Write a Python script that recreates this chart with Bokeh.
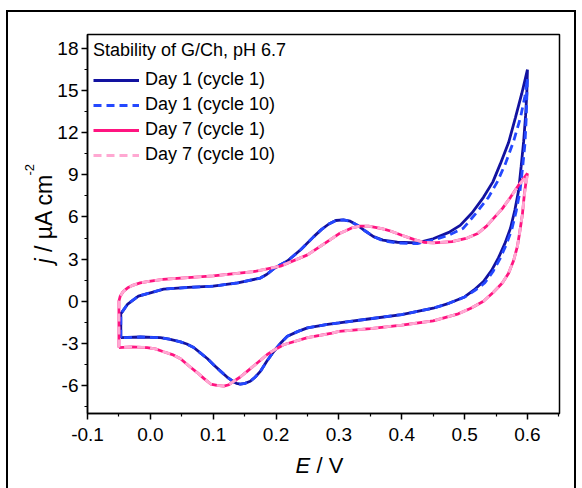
import math
from bokeh.plotting import figure
from bokeh.models import (Range1d, FixedTicker, PrintfTickFormatter, Legend,
                          LegendItem, Label, InlineStyleSheet)
from bokeh.embed import file_html
from bokeh.resources import INLINE

# ---------------- data ----------------
x_ticks = [-0.1, 0.0, 0.1, 0.2, 0.3, 0.4, 0.5, 0.6]
x_minor = [-0.05, 0.05, 0.15, 0.25, 0.35, 0.45, 0.55, 0.65]
y_ticks = [-6, -3, 0, 3, 6, 9, 12, 15, 18]
y_minor = [-7.5, -4.5, -1.5, 1.5, 4.5, 7.5, 10.5, 13.5, 16.5]

series_names = ["Day 1 (cycle 1)", "Day 1 (cycle 10)", "Day 7 (cycle 1)", "Day 7 (cycle 10)"]

d1c1_E = [-0.047, -0.047, -0.036, -0.019, 0.000, 0.021, 0.060, 0.100, 0.139, 0.175,
          0.185, 0.196, 0.207, 0.218, 0.240, 0.260, 0.272, 0.284, 0.295, 0.307,
          0.318, 0.330, 0.342, 0.355, 0.370, 0.393, 0.425, 0.450, 0.475, 0.493,
          0.512, 0.530, 0.545, 0.557, 0.570, 0.581, 0.591, 0.600,
          0.599, 0.597, 0.594, 0.590, 0.586, 0.580, 0.573, 0.564, 0.554, 0.543,
          0.530, 0.515, 0.500, 0.475, 0.450, 0.400, 0.350, 0.300, 0.282, 0.250,
          0.235, 0.218, 0.207, 0.196, 0.185, 0.175, 0.167, 0.159, 0.151, 0.143,
          0.137, 0.131, 0.122, 0.112, 0.101, 0.091, 0.080, 0.069, 0.058, 0.048,
          0.030, 0.016, -0.016, -0.047]
d1c1_j = [-2.6, -0.9, -0.2, 0.36, 0.6, 0.86, 0.98, 1.07, 1.3, 1.65,
          1.9, 2.3, 2.6, 2.86, 3.7, 4.6, 5.1, 5.5, 5.75, 5.8,
          5.7, 5.4, 5.0, 4.6, 4.35, 4.2, 4.15, 4.45, 4.9, 5.4,
          6.3, 7.4, 8.5, 9.8, 11.3, 13.1, 14.8, 16.5,
          14.8, 13.2, 11.4, 9.6, 7.9, 6.5, 5.2, 4.1, 3.1, 2.2,
          1.4, 0.8, 0.3, -0.15, -0.5, -0.95, -1.25, -1.55, -1.65, -1.9,
          -2.15, -2.5, -3.0, -3.6, -4.3, -5.0, -5.4, -5.7, -5.85, -5.9,
          -5.85, -5.7, -5.4, -5.0, -4.55, -4.1, -3.7, -3.3, -3.05, -2.9,
          -2.7, -2.6, -2.55, -2.6]

d1c10_E = [-0.047, -0.047, -0.036, -0.019, 0.000, 0.021, 0.060, 0.100, 0.139, 0.175,
           0.185, 0.196, 0.207, 0.218, 0.240, 0.260, 0.272, 0.284, 0.295, 0.307,
           0.318, 0.330, 0.342, 0.355, 0.370, 0.393, 0.425, 0.450, 0.475, 0.498,
           0.517, 0.538, 0.552, 0.565, 0.578, 0.589, 0.596, 0.600,
           0.599, 0.598, 0.596, 0.592, 0.588, 0.582, 0.575, 0.566, 0.556, 0.545,
           0.532, 0.516, 0.500, 0.475, 0.450, 0.400, 0.350, 0.300, 0.282, 0.250,
           0.235, 0.218, 0.207, 0.196, 0.185, 0.175, 0.167, 0.159, 0.151, 0.143,
           0.137, 0.131, 0.122, 0.112, 0.101, 0.091, 0.080, 0.069, 0.058, 0.048,
           0.030, 0.016, -0.016, -0.047]
d1c10_j = [-2.6, -0.9, -0.2, 0.36, 0.6, 0.86, 0.98, 1.07, 1.3, 1.65,
           1.9, 2.3, 2.6, 2.86, 3.7, 4.6, 5.1, 5.5, 5.75, 5.8,
           5.7, 5.4, 5.0, 4.6, 4.3, 4.15, 4.1, 4.35, 4.7, 5.2,
           6.2, 7.4, 8.5, 9.8, 11.4, 13.1, 14.6, 15.9,
           14.6, 13.0, 11.2, 9.4, 7.8, 6.4, 5.1, 4.0, 3.0, 2.1,
           1.3, 0.75, 0.3, -0.15, -0.5, -0.95, -1.25, -1.55, -1.65, -1.9,
           -2.15, -2.5, -3.0, -3.6, -4.3, -5.0, -5.4, -5.7, -5.85, -5.9,
           -5.85, -5.7, -5.4, -5.0, -4.55, -4.1, -3.7, -3.3, -3.05, -2.9,
           -2.7, -2.6, -2.55, -2.6]

d7c1_E = [-0.050, -0.050, -0.048, -0.043, -0.036, -0.027, -0.016, -0.005, 0.020, 0.048,
          0.100, 0.164, 0.207, 0.250, 0.287, 0.300, 0.310, 0.322, 0.334, 0.347,
          0.360, 0.370, 0.382, 0.400, 0.419, 0.435, 0.450, 0.480, 0.504, 0.520,
          0.535, 0.546, 0.560, 0.573, 0.588, 0.600,
          0.598, 0.595, 0.592, 0.588, 0.584, 0.578, 0.570, 0.560, 0.545, 0.530,
          0.510, 0.490, 0.450, 0.400, 0.350, 0.300, 0.287, 0.250, 0.212, 0.200,
          0.186, 0.170, 0.154, 0.143, 0.133, 0.125, 0.117, 0.106, 0.096, 0.085,
          0.075, 0.061, 0.048, 0.035, 0.021, 0.008, -0.005, -0.030, -0.050]
d7c1_j = [-3.3, 0.0, 0.35, 0.7, 0.95, 1.15, 1.3, 1.4, 1.55, 1.65,
          1.8, 2.1, 2.5, 3.3, 4.4, 4.8, 5.0, 5.25, 5.35, 5.35,
          5.25, 5.15, 5.0, 4.7, 4.4, 4.2, 4.15, 4.25, 4.5, 4.8,
          5.35, 5.9, 6.6, 7.4, 8.4, 9.1,
          8.6, 7.6, 6.2, 5.0, 3.9, 2.9, 2.0, 1.3, 0.6, 0.0,
          -0.5, -0.9, -1.4, -1.7, -1.95, -2.15, -2.3, -2.6, -3.1, -3.4,
          -3.8, -4.4, -5.0, -5.4, -5.7, -5.95, -6.05, -6.0, -5.9, -5.5,
          -5.1, -4.6, -4.1, -3.8, -3.6, -3.4, -3.3, -3.25, -3.3]

d7c10_E = [-0.050, -0.050, -0.048, -0.043, -0.036, -0.027, -0.016, -0.005, 0.020, 0.048,
           0.100, 0.164, 0.207, 0.250, 0.287, 0.300, 0.310, 0.322, 0.334, 0.347,
           0.360, 0.370, 0.382, 0.400, 0.419, 0.435, 0.450, 0.480, 0.504, 0.520,
           0.535, 0.546, 0.560, 0.573, 0.588, 0.600,
           0.598, 0.595, 0.592, 0.588, 0.584, 0.578, 0.570, 0.560, 0.545, 0.530,
           0.510, 0.490, 0.450, 0.400, 0.350, 0.300, 0.287, 0.250, 0.212, 0.200,
           0.186, 0.170, 0.154, 0.143, 0.133, 0.125, 0.117, 0.106, 0.096, 0.085,
           0.075, 0.061, 0.048, 0.035, 0.021, 0.008, -0.005, -0.030, -0.050]
d7c10_j = [-3.3, 0.0, 0.35, 0.7, 0.95, 1.15, 1.3, 1.4, 1.55, 1.65,
           1.8, 2.1, 2.5, 3.3, 4.4, 4.8, 5.0, 5.25, 5.35, 5.35,
           5.25, 5.15, 5.0, 4.7, 4.4, 4.2, 4.15, 4.25, 4.5, 4.8,
           5.35, 5.9, 6.6, 7.4, 8.35, 9.0,
           8.5, 7.5, 6.2, 5.0, 3.9, 2.9, 2.0, 1.3, 0.6, 0.0,
           -0.5, -0.9, -1.4, -1.7, -1.95, -2.15, -2.3, -2.6, -3.1, -3.4,
           -3.8, -4.4, -5.0, -5.4, -5.7, -5.95, -6.05, -6.0, -5.9, -5.5,
           -5.1, -4.6, -4.1, -3.8, -3.6, -3.4, -3.3, -3.25, -3.3]

# ---------------- figure ----------------
FONT = "Liberation Sans"
W, H = 582, 488
FL, FR, FT, FB = 87, 559, 34, 413
X0, X1 = -0.1, 0.651
Y0, Y1 = -8.0, 19.0

p = figure(width=W, height=H, x_range=Range1d(X0, X1), y_range=Range1d(Y0, Y1),
           output_backend="svg", toolbar_location=None,
           min_border_left=FL, min_border_right=W - FR,
           min_border_top=FT, min_border_bottom=H - FB)
p.grid.visible = False
p.outline_line_color = "black"
p.outline_line_width = 1.5
p.outline_line_alpha = 1.0
p.background_fill_color = "white"
p.border_fill_color = "white"

# outer picture frame (drawn with CSS over the canvas)
p.stylesheets = [InlineStyleSheet(css=(
    ":host::after { content: ''; position: absolute; left: 6px; top: 10px; "
    "width: 570px; height: 490px; border: 2.5px solid black; border-bottom: none; "
    "box-sizing: border-box; pointer-events: none; z-index: 10; }"))]

for ax in (p.xaxis[0], p.yaxis[0]):
    ax.axis_line_color = "black"
    ax.axis_line_width = 1.5
    ax.major_tick_line_color = "black"
    ax.major_tick_line_width = 1.5
    ax.minor_tick_line_color = "black"
    ax.minor_tick_line_width = 1.2
    ax.major_tick_out = 6
    ax.major_tick_in = 0
    ax.minor_tick_out = 3
    ax.minor_tick_in = 0
    ax.major_label_text_font = FONT
    ax.major_label_text_font_size = "19px"
    ax.major_label_text_color = "black"

p.xaxis.ticker = FixedTicker(ticks=x_ticks, minor_ticks=x_minor)
p.yaxis.ticker = FixedTicker(ticks=y_ticks, minor_ticks=y_minor)
p.xaxis.formatter = PrintfTickFormatter(format="%.1f")
p.yaxis.formatter = PrintfTickFormatter(format="%d")
p.xaxis.major_label_standoff = 8
p.yaxis.major_label_standoff = 3

# ---------------- curves ----------------
r1 = p.line(d1c1_E, d1c1_j, line_color="#1212a0", line_width=2.8)
r2 = p.line(d1c10_E, d1c10_j, line_color="#2448ff", line_width=2.8, line_dash="8 5")
r3 = p.line(d7c1_E, d7c1_j, line_color="#ff1480", line_width=2.8)
r4 = p.line(d7c10_E, d7c10_j, line_color="#ffa8d2", line_width=2.8, line_dash="8 5")

legend = Legend(items=[LegendItem(label=series_names[0], renderers=[r1]),
                       LegendItem(label=series_names[1], renderers=[r2]),
                       LegendItem(label=series_names[2], renderers=[r3]),
                       LegendItem(label=series_names[3], renderers=[r4])],
                location="top_left", title="Stability of G/Ch, pH 6.7")
legend.title_text_font = FONT
legend.title_text_font_size = "18px"
legend.title_text_font_style = "normal"
legend.title_text_color = "black"
legend.title_standoff = 8
legend.label_text_font = FONT
legend.label_text_font_size = "18px"
legend.label_text_color = "black"
legend.glyph_width = 46
legend.glyph_height = 20
legend.label_height = 20
legend.spacing = 4
legend.padding = 6
legend.margin = 0
legend.label_standoff = 6
legend.border_line_alpha = 0
legend.background_fill_alpha = 0
p.add_layout(legend)


# ---------------- axis titles (mixed italic), placed in side panels ----------------
def dx(px):
    return X0 + (px - FL) * (X1 - X0) / (FR - FL)


def dy(py):
    return Y0 + (FB - py) * (Y1 - Y0) / (FB - FT)


common = dict(text_font=FONT, text_color="black", text_baseline="alphabetic",
              text_align="left")
p.add_layout(Label(x=dx(295), y=dy(465), text="E", text_font_size="22px",
                   text_font_style="italic", **common), "above")
p.add_layout(Label(x=dx(316), y=dy(465), text="/ V", text_font_size="22px", **common),
             "below")
p.add_layout(Label(x=dx(43), y=dy(263), text="j", angle=math.pi / 2,
                   text_font_size="23px", text_font_style="italic", **common), "above")
p.add_layout(Label(x=dx(43), y=dy(251.5), text="/ µA cm", angle=math.pi / 2,
                   text_font_size="23px", **common), "left")
p.add_layout(Label(x=dx(29), y=dy(175), text="-2", angle=math.pi / 2,
                   text_font_size="13px", **common), "left")

open("out.html", "w").write(file_html(p, INLINE))
